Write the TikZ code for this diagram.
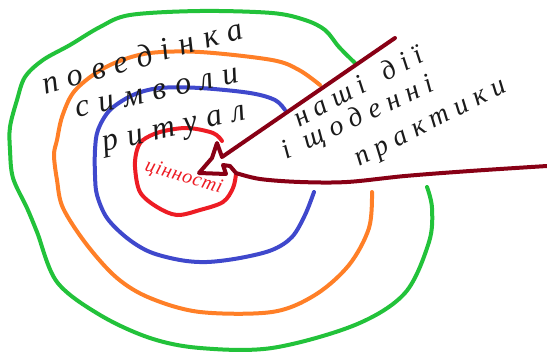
\documentclass[tikz,border=0pt]{standalone}
\usepackage{fontspec}
\usepackage{tikz}
\newfontfamily\handfont[LetterSpace=30]{Liberation Serif Italic}
\newfontfamily\notefont[LetterSpace=26]{Liberation Serif Italic}
\newfontfamily\corefont[LetterSpace=4]{Liberation Serif Italic}
\definecolor{ringGreen}{HTML}{22C23A}
\definecolor{ringOrange}{HTML}{FF7F27}
\definecolor{ringBlue}{HTML}{3F48CC}
\definecolor{ringRed}{HTML}{ED1C24}
\definecolor{arrowRed}{HTML}{880015}
\definecolor{inkColor}{HTML}{1A1A1A}

\begin{document}
\begin{tikzpicture}[x=1pt, y=-1pt,
    ring/.style={line width=4pt, line cap=round, line join=round},
    hand/.style={inkColor, anchor=base west, inner sep=0pt,
        font=\handfont\fontsize{32}{32}\selectfont},
    note/.style={inkColor, anchor=base west, inner sep=0pt, rotate=27,
        font=\notefont\fontsize{28}{28}\selectfont}]
    \useasboundingbox (0,0) rectangle (547,353);
    \draw[ring, ringGreen] plot[smooth, tension=0.55] coordinates {
        (355,63) (339,47) (325,30) (305,20) (272,13) (200,11) (130,15)
        (100,27) (70,45) (43,60) (25,77) (17,100) (10,127) (10,150) (13,178)
        (27,208) (37,232) (57,282) (100,315) (150,338) (200,348) (272,348)
        (355,325) (405,293) (429,242) (432,208) (427,187)};
    \draw[ring, ringOrange] plot[smooth, tension=0.55] coordinates {
        (320,85) (299,70) (272,60) (200,52) (150,53) (117,62) (93,75)
        (73,93) (62,117) (57,140) (54,155) (57,180) (63,208) (87,245)
        (117,278) (150,298) (200,312) (272,312) (315,295) (349,265)
        (369,228) (372,192)};
    \draw[ring, ringBlue] plot[smooth, tension=0.55] coordinates {
        (285,110) (275,100) (250,93) (200,88) (160,88) (133,95) (110,110)
        (98,130) (95,150) (95,175) (97,195) (107,218) (127,238) (150,252)
        (180,260) (207,262) (240,258) (272,250) (292,237) (305,215) (314,192)};
    \draw[ring, ringRed] plot[smooth, tension=0.55] coordinates {
        (222,141) (213,133) (187,128) (160,132) (143,140) (137,150)
        (135,167) (140,192) (157,207) (177,215) (200,210) (223,202)
        (233,188) (236,174)};
    \draw[ring, arrowRed] (395,38) -- (222,157) -- (217,143) -- (212,158)
        -- (199,173) -- (226,174) -- (223,165) -- (230,166) -- (236,173)
        plot[smooth, tension=0.55] coordinates {(236,173) (260,179)
        (300,182) (347,182) (405,176) (470,171) (547,166)};
    \node[hand, rotate=16] (behaviour) at (45,95) {поведінка};
    \node[hand, rotate=12.5] (symbols) at (77,118) {символи};
    \node[hand, rotate=13] (ritual) at (104,152) {ритуал};
    \node[ringRed, anchor=base west, inner sep=0pt, rotate=-17,
        font=\corefont\fontsize{20}{20}\selectfont]
        (values) at (144,170) {цінності};
    \node[note, rotate=1] (actions) at (299,128) {наші\hspace{20pt}дії};
    \node[note, rotate=-2] (daily) at (286,160) {і\hspace{16pt}щоденні};
    \node[note] (practices) at (359,167) {практики};
\end{tikzpicture}
\end{document}
